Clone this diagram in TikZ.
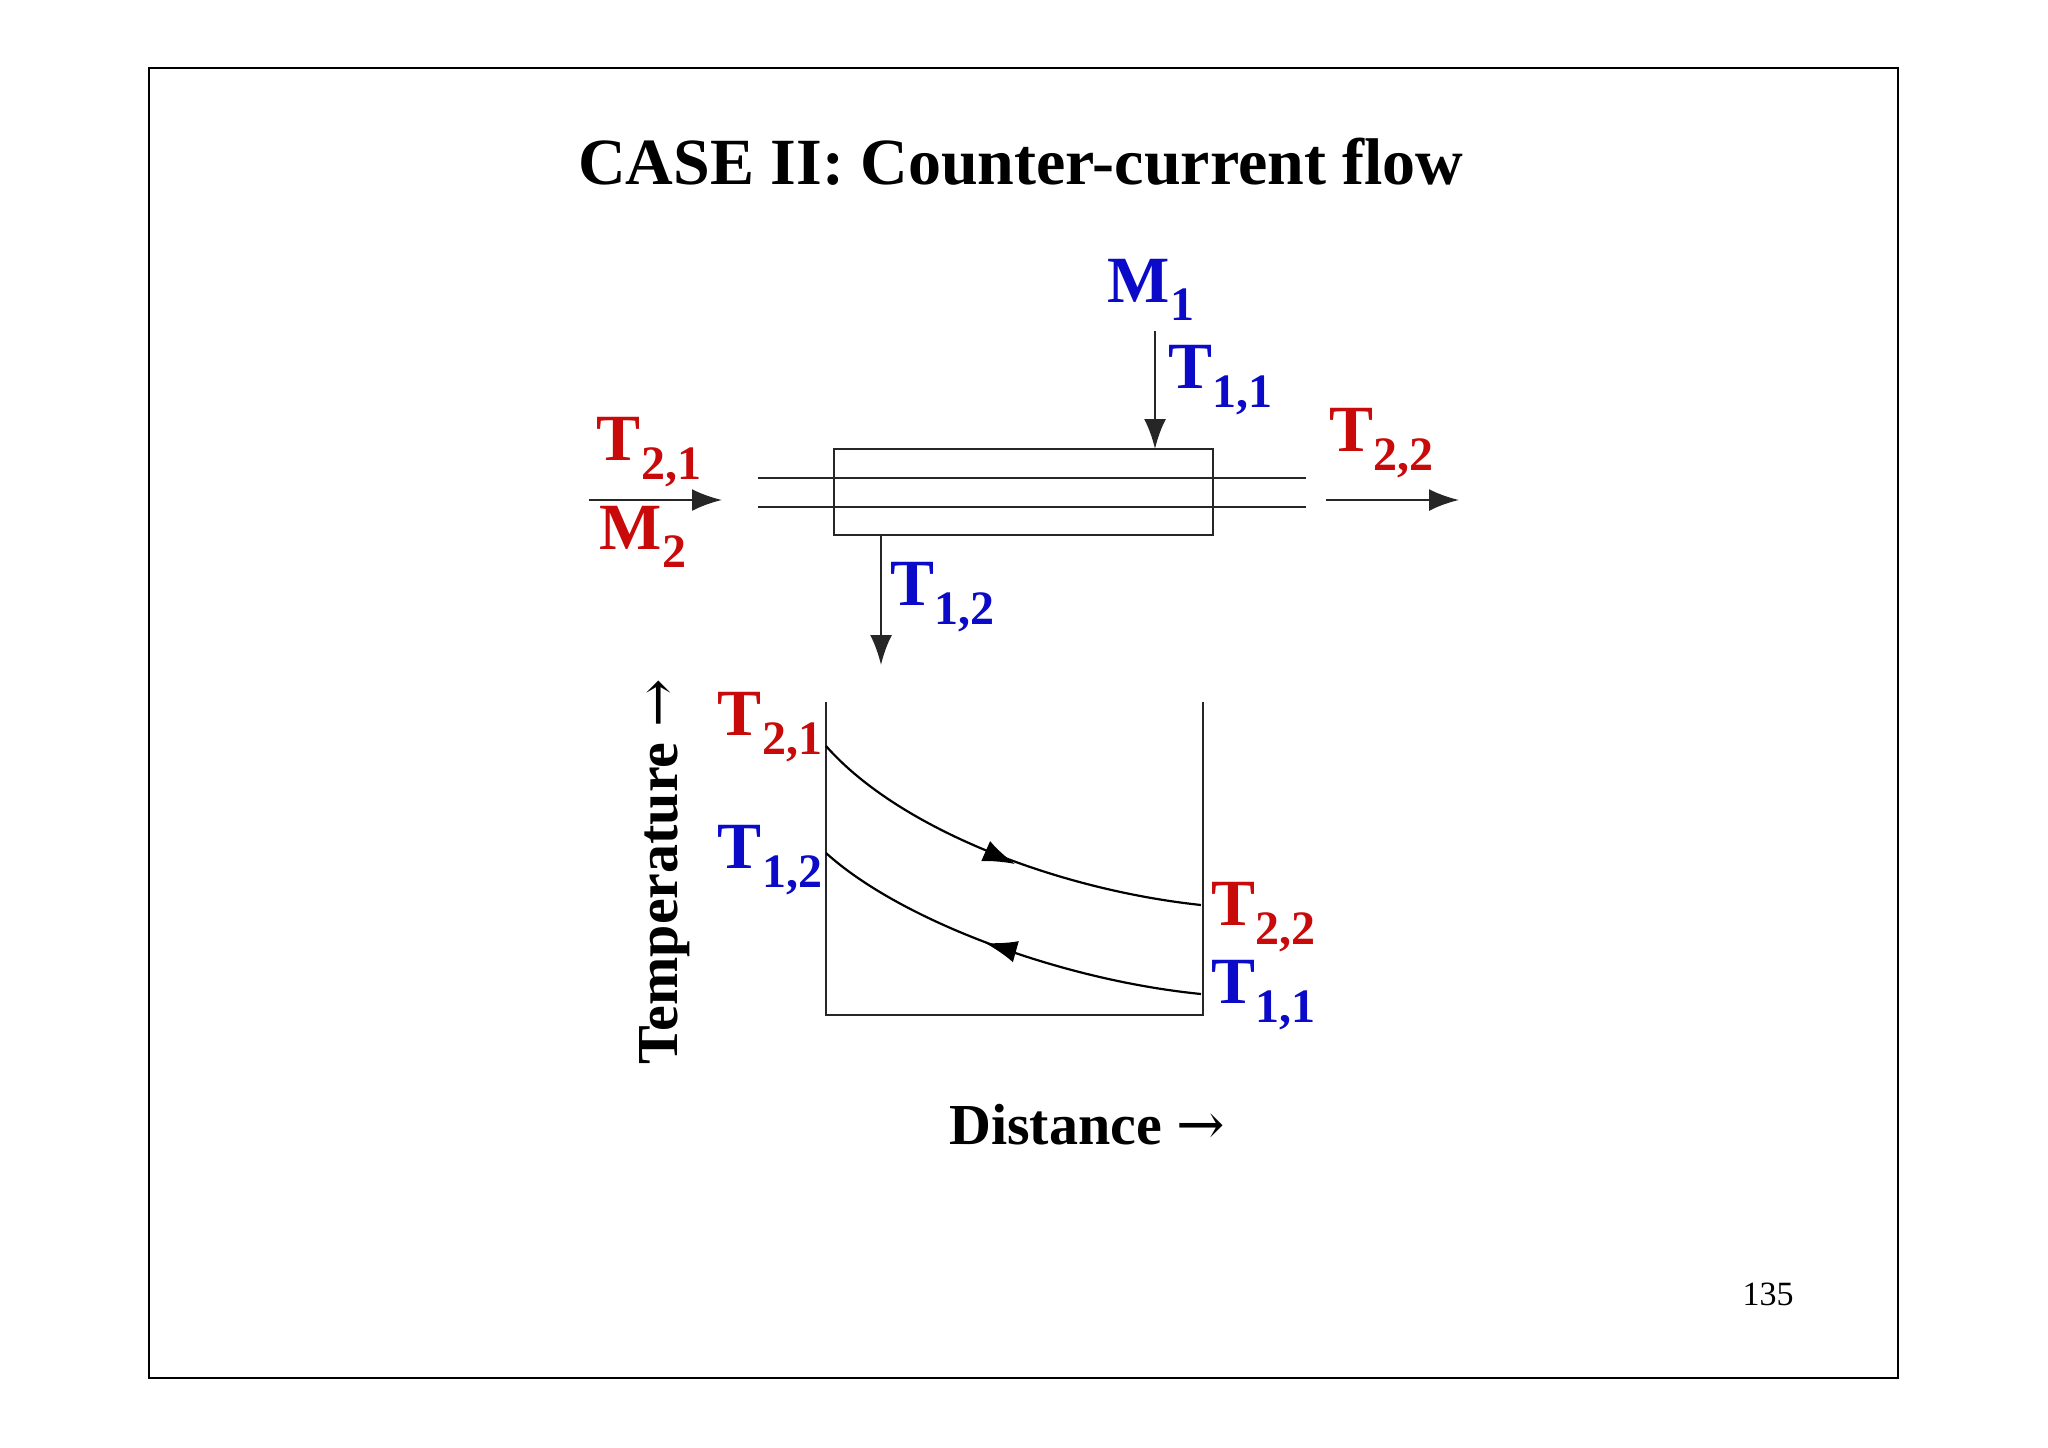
\documentclass[tikz,border=0pt]{standalone}
\usepackage{fontspec}
\setmainfont{Liberation Serif}
\usetikzlibrary{arrows.meta}
\definecolor{myred}{RGB}{200,10,10}
\definecolor{myblue}{RGB}{10,10,200}
\newcommand{\lbl}[2]{T\raisebox{-0.28em}{\fontsize{48}{48}\selectfont #1,#2}}
\tikzset{
  big/.style={font=\fontsize{66}{66}\selectfont\bfseries, inner sep=0pt},
  rlab/.style={big, text=myred},
  blab/.style={big, text=myblue},
  ln/.style={line width=2.6pt, black!85},
  arr/.style={ln, -{Latex[length=30pt,width=22pt]}},
  midarr/.style={-{Latex[length=32pt,width=22pt]}}
}
\begin{document}
\begin{tikzpicture}[x=1pt,y=-1pt]
\useasboundingbox (0,0) rectangle (2048,1448);
\draw[line width=2pt] (149,68) rectangle (1898,1378);
\node[font=\fontsize{66}{66}\selectfont\bfseries] (title) at (1021,162) {CASE II: Counter-current flow};
% exchanger
\draw[ln] (834,449) rectangle (1213,535);
\coordinate (l1a) at (758,478); \coordinate (l1b) at (1306,478);
\coordinate (l2a) at (758,507); \coordinate (l2b) at (1306,507);
\draw[ln] (l1a) -- (l1b); \draw[ln] (l2a) -- (l2b);
\coordinate (ina) at (589,500); \coordinate (inb) at (722,500);
\draw[arr] (ina) -- (inb);
\coordinate (outa) at (1326,500); \coordinate (outb) at (1459,500);
\draw[arr] (outa) -- (outb);
\coordinate (da) at (1155,331); \coordinate (db) at (1155,449);
\draw[arr] (da) -- (db);
\coordinate (ea) at (881,535); \coordinate (eb) at (881,665);
\draw[arr] (ea) -- (eb);
% labels top
\node[blab] (m1) at (1151,290) {M\raisebox{-0.28em}{\fontsize{48}{48}\selectfont 1}};
\node[blab] (t11a) at (1220,380) {\lbl{1}{1}};
\node[rlab] (t21a) at (649,452) {\lbl{2}{1}};
\node[rlab] (m2) at (643,537) {M\raisebox{-0.28em}{\fontsize{48}{48}\selectfont 2}};
\node[rlab] (t22a) at (1381,443) {\lbl{2}{2}};
\node[blab] (t12a) at (942,597) {\lbl{1}{2}};
% plot
\coordinate (pa) at (826,702); \coordinate (pb) at (826,1015);
\coordinate (pc) at (1203,1015); \coordinate (pd) at (1203,702);
\draw[ln] (pa) -- (pb) -- (pc) -- (pd);
\coordinate (u0) at (826,746); \coordinate (u1) at (1201,905);
\coordinate (w0) at (826,853); \coordinate (w1) at (1201,994);
\draw[line width=2.2pt] (u0) .. controls (900,830) and (1060,890) .. (u1);
\draw[line width=2.2pt] (w0) .. controls (900,920) and (1060,980) .. (w1);
\draw[line width=2pt, midarr] (990,853) -- (1015,864);
\draw[line width=2pt, midarr] (1010,950) -- (985,943);
\node[rlab] (t21b) at (770,727) {\lbl{2}{1}};
\node[blab] (t12b) at (770,860) {\lbl{1}{2}};
\node[rlab] (t22b) at (1263,917) {\lbl{2}{2}};
\node[blab] (t11b) at (1263,995) {\lbl{1}{1}};
\node[font=\fontsize{58}{58}\selectfont\bfseries, rotate=90] (temp) at (665,872) {Temperature {\fontspec{DejaVu Serif}\mdseries\fontsize{58}{58}\selectfont →}};
\node[font=\fontsize{58}{58}\selectfont\bfseries] (dist) at (1087,1125) {Distance {\fontspec{DejaVu Serif}\mdseries\fontsize{58}{58}\selectfont →}};
\node[font=\fontsize{34}{34}\selectfont] (pg) at (1768,1294) {135};
\end{tikzpicture}
\end{document}
